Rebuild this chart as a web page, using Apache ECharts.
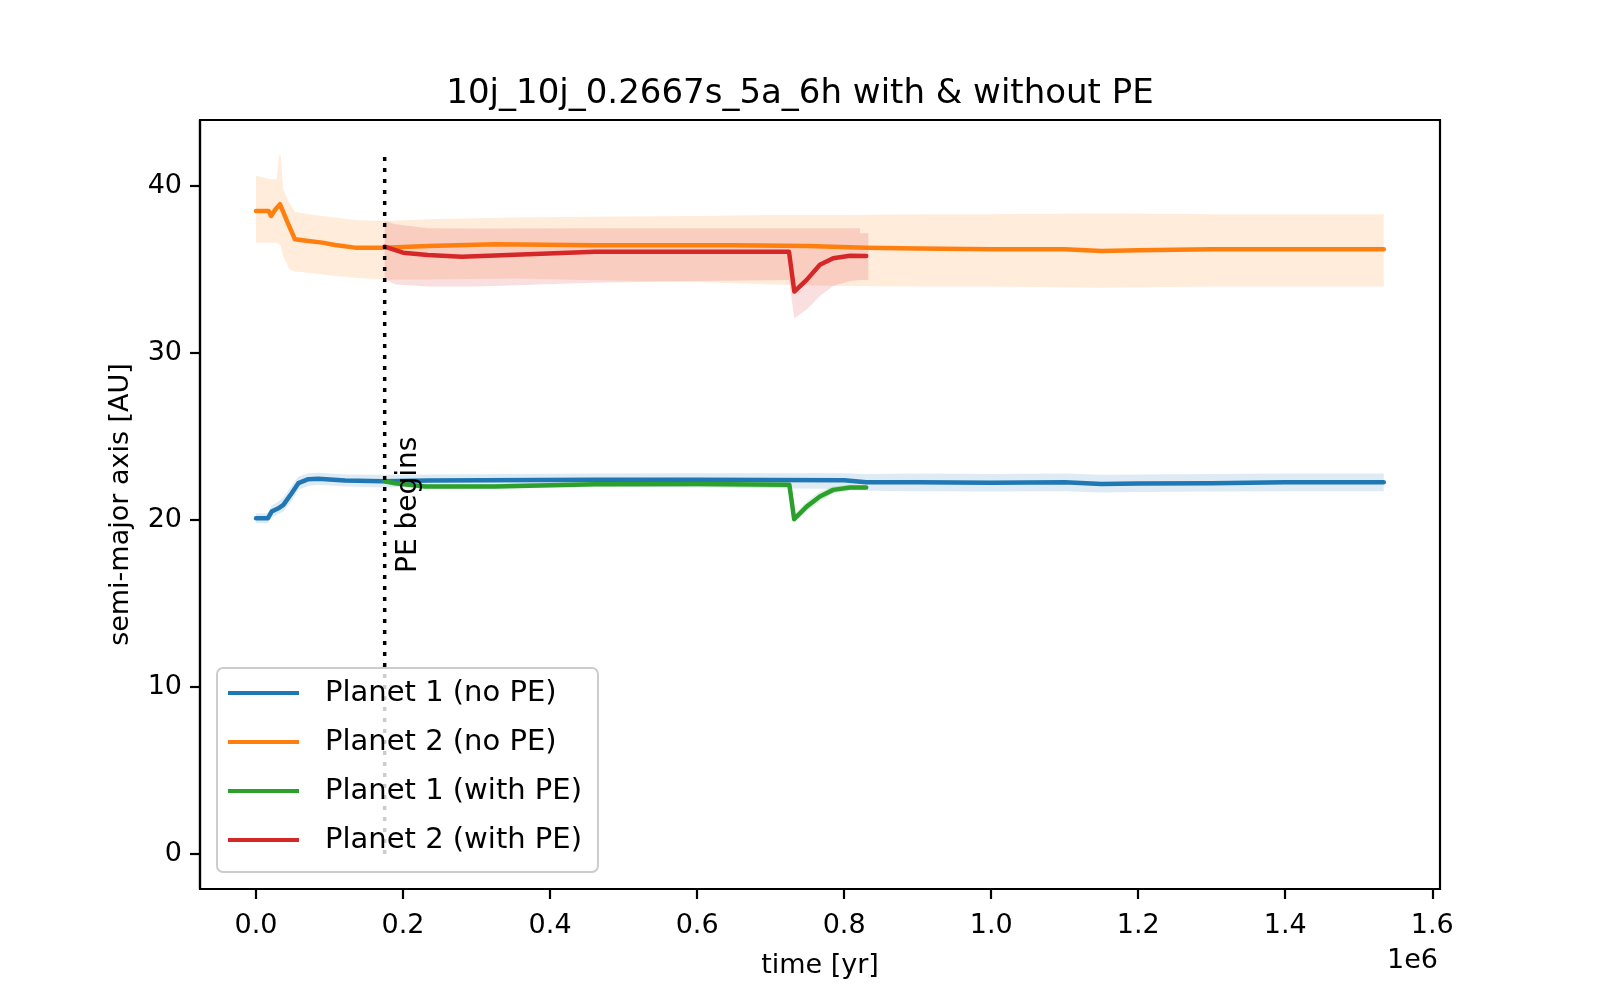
<!DOCTYPE html>
<html>
<head>
<meta charset="utf-8">
<script src="https://cdn.jsdelivr.net/npm/echarts@6/dist/echarts.min.js"></script>
<style>
  html, body { margin: 0; padding: 0; background: #fff; }
  #chart { width: 1600px; height: 1000px; }
</style>
</head>
<body>
<div id="chart"></div>
<script>
// time in units of 1e6 yr
var xTicks = [0, 0.2, 0.4, 0.6, 0.8, 1.0, 1.2, 1.4, 1.6];
var yTicks = [0, 10, 20, 30, 40];

// Planet 1 (no PE)
var p1Time = [0, 0.016, 0.0213, 0.0304, 0.0372, 0.0485, 0.0576, 0.0712, 0.0848, 0.121, 0.173, 0.234, 0.461, 0.6, 0.8, 0.83, 0.9, 1.0, 1.1, 1.15, 1.2, 1.3, 1.4, 1.534];
var p1Val  = [20.1, 20.1, 20.5, 20.7, 20.9, 21.6, 22.2, 22.44, 22.46, 22.36, 22.32, 22.36, 22.4, 22.4, 22.38, 22.25, 22.25, 22.22, 22.25, 22.15, 22.18, 22.2, 22.25, 22.25];
var p1Lo   = [19.8, 19.8, 20.15, 20.35, 20.5, 21.15, 21.8, 22.05, 22.1, 22.0, 21.95, 22.0, 22.0, 21.95, 21.85, 21.75, 21.72, 21.7, 21.72, 21.65, 21.68, 21.7, 21.72, 21.72];
var p1Hi   = [20.4, 20.4, 20.85, 21.1, 21.35, 22.05, 22.6, 22.8, 22.82, 22.72, 22.7, 22.72, 22.78, 22.8, 22.8, 22.75, 22.78, 22.75, 22.78, 22.7, 22.72, 22.75, 22.78, 22.78];

// Planet 2 (no PE)
var p2Time = [0, 0.017, 0.0205, 0.0265, 0.0326, 0.043, 0.053, 0.0712, 0.09, 0.1075, 0.1346, 0.173, 0.234, 0.325, 0.461, 0.55, 0.65, 0.75, 0.83, 0.9, 1.0, 1.1, 1.15, 1.2, 1.3, 1.4, 1.534];
var p2Val  = [38.5, 38.5, 38.2, 38.6, 38.9, 37.8, 36.8, 36.7, 36.6, 36.46, 36.3, 36.3, 36.4, 36.5, 36.45, 36.45, 36.45, 36.4, 36.3, 36.25, 36.2, 36.2, 36.1, 36.15, 36.2, 36.2, 36.2];
var p2BandTime = [0, 0.02, 0.028, 0.0315, 0.0335, 0.037, 0.045, 0.053, 0.0712, 0.1075, 0.1346, 0.173, 0.234, 0.35, 0.461, 0.6, 0.7, 0.8, 0.9, 1.0, 1.15, 1.3, 1.534];
var p2Lo   = [36.6, 36.6, 36.6, 36.5, 36.4, 35.8, 35.0, 34.87, 34.8, 34.6, 34.5, 34.4, 34.4, 34.45, 34.35, 34.25, 34.1, 34.0, 33.97, 33.97, 33.9, 33.97, 33.97];
var p2Hi   = [40.6, 40.4, 40.4, 41.85, 41.85, 39.8, 39.0, 38.45, 38.3, 38.1, 37.96, 37.9, 38.0, 38.1, 38.15, 38.2, 38.25, 38.25, 38.3, 38.3, 38.35, 38.3, 38.3];

// Planet 1 (with PE)
var p1PeTime = [0.175, 0.189, 0.23, 0.325, 0.461, 0.6, 0.7255, 0.732, 0.749, 0.767, 0.785, 0.808, 0.83];
var p1PeVal  = [22.32, 22.2, 22.0, 22.0, 22.14, 22.15, 22.1, 20.05, 20.8, 21.4, 21.8, 21.94, 21.94];
var p1PeLo   = [22.2, 22.05, 21.85, 21.85, 21.98, 22.0, 21.95, 19.85, 20.5, 21.1, 21.6, 21.78, 21.8];
var p1PeHi   = [22.45, 22.35, 22.15, 22.15, 22.3, 22.3, 22.25, 20.3, 21.1, 21.7, 22.0, 22.1, 22.08];

// Planet 2 (with PE)
var p2PeTime = [0.175, 0.2, 0.2335, 0.28, 0.37, 0.461, 0.6, 0.725, 0.7322, 0.749, 0.767, 0.785, 0.808, 0.83];
var p2PeVal  = [36.36, 36.0, 35.86, 35.76, 35.9, 36.06, 36.05, 36.05, 33.67, 34.37, 35.27, 35.67, 35.82, 35.8];
var p2PeBandTime = [0.175, 0.19, 0.234, 0.3, 0.461, 0.6, 0.725, 0.7322, 0.749, 0.767, 0.785, 0.808, 0.8215, 0.8216, 0.833];
var p2PeLo   = [34.4, 34.1, 33.97, 33.97, 34.2, 34.3, 34.37, 32.07, 32.6, 33.4, 34.0, 34.3, 34.37, 34.37, 34.37];
var p2PeHi   = [37.9, 37.7, 37.46, 37.45, 37.46, 37.46, 37.46, 37.46, 37.46, 37.46, 37.46, 37.46, 37.46, 37.16, 37.16];

// PE start marker
var peStart = 0.175;
var peLineY = [0, 41.8];
var peLabelPos = [0.208, 16.83];

var FONT = '"DejaVu Sans", sans-serif';

function pairs(t, v) {
    return t.map(function (x, i) { return [x, v[i]]; });
}

function lineSeries(name, t, v, color) {
    return {
        name: name,
        type: 'line',
        data: pairs(t, v),
        showSymbol: false,
        z: 3,
        itemStyle: { color: color },
        lineStyle: { color: color, width: 4.5, join: 'round', cap: 'round' }
    };
}

// fill_between like band, drawn as one polygon
function bandSeries(t, lo, hi, color) {
    return {
        type: 'custom',
        silent: true,
        z: 1,
        data: t.map(function (x, i) { return [x, lo[i], hi[i]]; }),
        encode: { x: 0, y: [1, 2] },
        renderItem: function (params, api) {
            if (params.dataIndex !== 0) return;
            var pts = [];
            for (var i = 0; i < t.length; i++) pts.push(api.coord([t[i], hi[i]]));
            for (var j = t.length - 1; j >= 0; j--) pts.push(api.coord([t[j], lo[j]]));
            return {
                type: 'polygon',
                shape: { points: pts },
                style: { fill: color, opacity: 0.15 }
            };
        }
    };
}

var chart = echarts.init(document.getElementById('chart'));
var option = {
    animation: false,
    backgroundColor: '#fff',
    title: {
        text: '10j_10j_0.2667s_5a_6h with & without PE',
        left: 'center',
        top: 72,
        textStyle: { fontFamily: FONT, fontSize: 34, fontWeight: 'normal', color: '#000' }
    },
    grid: {
        left: 200, top: 120, width: 1240, height: 769,
        show: true, borderColor: '#000', borderWidth: 2.2, backgroundColor: 'transparent'
    },
    legend: {
        orient: 'vertical',
        left: 217, top: 668,
        data: ['Planet 1 (no PE)', 'Planet 2 (no PE)', 'Planet 1 (with PE)', 'Planet 2 (with PE)'],
        icon: 'rect',
        itemWidth: 71, itemHeight: 4,
        itemGap: 19,
        padding: [10, 16, 17, 11],
        backgroundColor: 'rgba(255,255,255,0.8)',
        borderColor: '#cccccc', borderWidth: 2, borderRadius: 6,
        itemStyle: { borderWidth: 0 },
        textStyle: { fontFamily: FONT, fontSize: 29, color: '#000', lineHeight: 30, padding: [0, 0, 0, 21] }
    },
    xAxis: {
        type: 'value',
        min: -0.0762, max: 1.6105,
        name: 'time [yr]',
        nameLocation: 'middle',
        nameGap: 63,
        nameTextStyle: { fontFamily: FONT, fontSize: 27, color: '#000' },
        axisLine: { show: true, onZero: false, lineStyle: { color: '#000', width: 2.2 } },
        axisTick: { show: true, length: 10, customValues: xTicks, lineStyle: { color: '#000', width: 2.2 } },
        axisLabel: {
            customValues: xTicks, margin: 23,
            fontFamily: FONT, fontSize: 27, color: '#000',
            formatter: function (v) { return v.toFixed(1); }
        },
        splitLine: { show: false }
    },
    yAxis: {
        type: 'value',
        min: -2.09, max: 43.94,
        name: 'semi-major axis [AU]',
        nameLocation: 'middle',
        nameGap: 66,
        nameTextStyle: { fontFamily: FONT, fontSize: 27, color: '#000' },
        axisLine: { show: true, onZero: false, lineStyle: { color: '#000', width: 2.2 } },
        axisTick: { show: true, length: 10, customValues: yTicks, lineStyle: { color: '#000', width: 2.2 } },
        axisLabel: {
            customValues: yTicks, margin: 18,
            fontFamily: FONT, fontSize: 27, color: '#000',
            padding: [6, 0, 0, 0]
        },
        splitLine: { show: false }
    },
    series: [
        bandSeries(p1Time, p1Lo, p1Hi, '#1f77b4'),
        bandSeries(p2BandTime, p2Lo, p2Hi, '#ff7f0e'),
        bandSeries(p1PeTime, p1PeLo, p1PeHi, '#2ca02c'),
        bandSeries(p2PeBandTime, p2PeLo, p2PeHi, '#d62728'),
        lineSeries('Planet 1 (no PE)', p1Time, p1Val, '#1f77b4'),
        lineSeries('Planet 2 (no PE)', p2Time, p2Val, '#ff7f0e'),
        lineSeries('Planet 1 (with PE)', p1PeTime, p1PeVal, '#2ca02c'),
        lineSeries('Planet 2 (with PE)', p2PeTime, p2PeVal, '#d62728'),
        {
            type: 'line',
            silent: true,
            z: 3.5,
            showSymbol: false,
            data: [[peStart, peLineY[0]], [peStart, peLineY[1]]],
            lineStyle: { color: '#000', width: 3.5, type: [4, 7], cap: 'butt' }
        }
    ]
};
chart.setOption(option);

// "1e6" offset text and vertical "PE begins" label placed in data coordinates
var p = chart.convertToPixel({ gridIndex: 0 }, peLabelPos);
chart.setOption({
    graphic: [
        {
            type: 'text',
            right: 1600 - 1438,
            top: 947,
            style: { text: '1e6', fontFamily: FONT, fontSize: 27, fill: '#000' }
        },
        {
            type: 'text',
            x: p[0], y: p[1],
            rotation: Math.PI / 2,
            z: 5,
            style: {
                text: 'PE begins', fontFamily: FONT, fontSize: 28, fill: '#000',
                align: 'left', verticalAlign: 'middle'
            }
        }
    ]
});
</script>
</body>
</html>
